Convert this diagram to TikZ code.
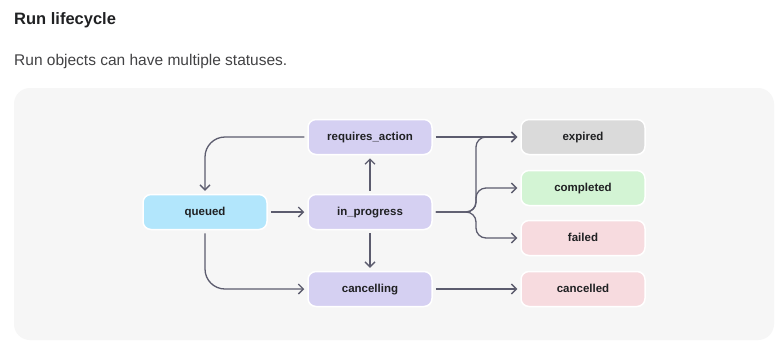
\documentclass[tikz,border=0pt]{standalone}
\usepackage{fontspec}
\setmainfont{Liberation Sans}
\usetikzlibrary{arrows.meta}

\definecolor{panelgray}{HTML}{F6F6F6}
\definecolor{linegray}{HTML}{5C5C6E}
\definecolor{inkdark}{HTML}{202123}
\definecolor{lavender}{HTML}{D5D0F2}
\definecolor{skyblue}{HTML}{B2E6FC}
\definecolor{greylight}{HTML}{DADADA}
\definecolor{mintlight}{HTML}{D3F4D4}
\definecolor{pinklight}{HTML}{F7DBDF}

\begin{document}
\begin{tikzpicture}[x=1pt, y=-1pt,
    state/.style={draw=white, line width=1.5pt, rounded corners=8pt,
      minimum width=124pt, minimum height=35pt, text=inkdark,
      text height=8.5pt, text depth=1.5pt,
      font=\bfseries\fontsize{11.5}{13}\selectfont},
    flow/.style={draw=linegray, line width=1.3pt,
      -{Straight Barb[length=5pt, width=10pt, line width=1.3pt]},
      shorten <=3pt, shorten >=3pt}]
    \useasboundingbox (0,0) rectangle (784,346);
    \fill[white] (0,0) rectangle (784,346);

    % heading
    \node[anchor=west, inner sep=0pt, font=\bfseries\fontsize{16.5}{19}\selectfont, text=inkdark]
      (title) at (14,20) {Run lifecycle};
    \node[anchor=west, inner sep=0pt, font=\fontsize{15.5}{18}\selectfont, text=inkdark!85]
      (subtitle) at (14,61) {Run objects can have multiple statuses.};

    % panel
    \fill[panelgray, rounded corners=16pt] (14,88) rectangle (774,340);

    % states
    \node[state, fill=lavender] (reqaction) at (370,137) {requires\_action};
    \node[state, fill=skyblue] (queued) at (205,212) {queued};
    \node[state, fill=lavender] (inprogress) at (370,212) {in\_progress};
    \node[state, fill=lavender] (cancelling) at (370,289) {cancelling};

    \node[state, fill=greylight] (expired) at (583,137) {expired};
    \node[state, fill=mintlight] (completed) at (583,188) {completed};
    \node[state, fill=pinklight] (failed) at (583,238) {failed};
    \node[state, fill=pinklight] (cancelled) at (583,289) {cancelled};

    \coordinate (split) at (476,212);

    % transitions
    \draw[flow, rounded corners=20pt] (reqaction.west) -| (queued.north);
    \draw[flow, rounded corners=20pt] (queued.south) |- (cancelling.west);
    \draw[flow] (queued) -- (inprogress);
    \draw[flow] (inprogress) -- (reqaction);
    \draw[flow] (inprogress) -- (cancelling);
    \draw[flow] (reqaction) -- (expired);
    \draw[flow] (cancelling) -- (cancelled);
    \draw[flow, rounded corners=10pt] (inprogress.east) -- (split) |- (expired.west);
    \draw[flow, rounded corners=10pt] (inprogress.east) -- (split) |- (completed.west);
    \draw[flow, rounded corners=10pt] (inprogress.east) -- (split) |- (failed.west);
\end{tikzpicture}
\end{document}
